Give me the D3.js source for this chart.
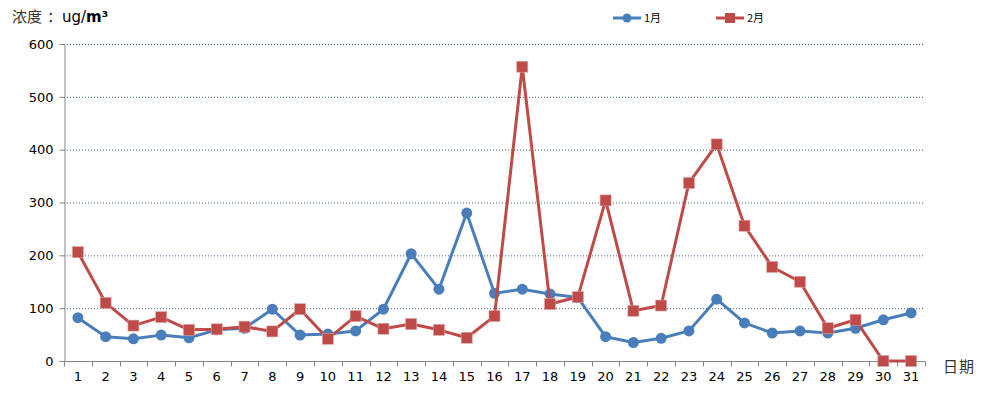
<!DOCTYPE html>
<html lang="zh">
<head>
<meta charset="UTF-8">
<title>浓度</title>
<script src="https://d3js.org/d3.v7.min.js"></script>
<style>
  body, html { margin: 0; padding: 0; background: #fff; overflow: hidden; }
  svg { display: block; font-family: "DejaVu Sans", "Noto Sans CJK SC", sans-serif; }
</style>
</head>
<body>
<svg width="992" height="396"></svg>
<script>
// data
const days = d3.range(1, 32).map(String);
const jan = [82, 46, 42, 49, 44, 59, 62, 98, 49, 51, 57, 98, 203, 136, 280, 128, 136, 127, 120, 46,
             35, 43, 57, 117, 72, 53, 57, 53, 62, 78, 91];
const feb = [206, 110, 67, 83, 59, 60, 65, 56, 98, 42, 85, 61, 70, 59, 44, 85, 557, 108, 121, 304,
             95, 105, 337, 410, 256, 178, 150, 62, 78, 0, 0];
const yTicks = [0, 100, 200, 300, 400, 500, 600];
const series = [
  { name: "1月", values: jan, color: "#4a7ebb", shape: "circle" },
  { name: "2月", values: feb, color: "#be4b48", shape: "square" }
];

const svg = d3.select("svg");
const plotL = 64, plotR = 925, plotT = 44, plotB = 361;

const x = d3.scaleBand().domain(days).range([plotL, plotR]);
const y = d3.scaleLinear().domain([0, 600]).range([plotB, plotT]);

// gridlines
svg.append("g").selectAll("line")
  .data(yTicks.filter(d => d > 0))
  .enter().append("line")
  .attr("x1", plotL).attr("x2", plotR)
  .attr("y1", d => y(d) + 0.5).attr("y2", d => y(d) + 0.5)
  .attr("stroke", "#3f5f80").attr("stroke-width", 1)
  .attr("stroke-dasharray", "1,2");

// y axis
const yAxis = svg.append("g")
  .attr("transform", `translate(${plotL + 0.5},0)`)
  .call(d3.axisLeft(y).tickValues(yTicks).tickSize(5).tickPadding(6));
yAxis.selectAll("path, line").attr("stroke", "#868686");
yAxis.selectAll("text").attr("font-size", 13).attr("fill", "#000")
  .attr("font-family", "DejaVu Sans");

// x axis
const xAxis = svg.append("g")
  .attr("transform", `translate(0,${plotB + 0.5})`)
  .call(d3.axisBottom(x).tickSize(0).tickPadding(10));
xAxis.select(".domain").attr("stroke", "#868686").attr("d", `M${plotL},0H${plotR}`);
xAxis.selectAll("text").attr("font-size", 13).attr("fill", "#000")
  .attr("font-family", "DejaVu Sans");
xAxis.selectAll(".sep")
  .data(d3.range(days.length + 1))
  .enter().append("line")
  .attr("x1", i => Math.round(plotL + i * x.step()) + 0.5)
  .attr("x2", i => Math.round(plotL + i * x.step()) + 0.5)
  .attr("y1", 0).attr("y2", 5)
  .attr("stroke", "#868686");

// series
const line = d3.line().x((d, i) => x(days[i]) + x.bandwidth() / 2).y(d => y(d));
series.forEach(s => {
  const g = svg.append("g");
  g.append("path")
    .attr("d", line(s.values))
    .attr("fill", "none")
    .attr("stroke", s.color)
    .attr("stroke-width", 3)
    .attr("stroke-linejoin", "round");
  if (s.shape === "circle") {
    g.selectAll("circle").data(s.values).enter().append("circle")
      .attr("cx", (d, i) => x(days[i]) + x.bandwidth() / 2)
      .attr("cy", d => y(d))
      .attr("r", 5.5)
      .attr("fill", s.color);
  } else {
    g.selectAll("rect").data(s.values).enter().append("rect")
      .attr("x", (d, i) => x(days[i]) + x.bandwidth() / 2 - 5.5)
      .attr("y", d => y(d) - 5.5)
      .attr("width", 11).attr("height", 11)
      .attr("fill", s.color)
      .attr("stroke", "#d9a3a2").attr("stroke-width", 0.6);
  }
});

// title
const title = svg.append("text").attr("y", 22).attr("fill", "#000");
title.append("tspan").attr("x", 12).attr("font-size", 15).attr("font-family", "Noto Sans CJK SC")
  .attr("fill", "#333").text("浓度");
title.append("tspan").attr("x", 47).attr("font-size", 15).attr("font-family", "Noto Sans CJK SC")
  .attr("fill", "#333").text("：");
title.append("tspan").attr("x", 62).attr("font-size", 15).attr("font-family", "DejaVu Sans").text("ug/");
title.append("tspan").attr("font-size", 15).attr("font-family", "DejaVu Sans")
  .attr("font-weight", "bold").text("m³");

// x label
svg.append("text").attr("x", 943).attr("y", 372)
  .attr("font-size", 15).attr("font-family", "Noto Sans CJK SC")
  .attr("letter-spacing", 1)
  .attr("fill", "#333").text("日期");

// legend
const legend = svg.append("g");
series.forEach((s, i) => {
  const lx = 613 + i * 103, ly = 18;
  legend.append("line").attr("x1", lx).attr("x2", lx + 28)
    .attr("y1", ly).attr("y2", ly)
    .attr("stroke", s.color).attr("stroke-width", 3);
  if (s.shape === "circle") {
    legend.append("circle").attr("cx", lx + 14).attr("cy", ly).attr("r", 4.5).attr("fill", s.color);
  } else {
    legend.append("rect").attr("x", lx + 9).attr("y", ly - 5).attr("width", 10).attr("height", 10)
      .attr("fill", s.color);
  }
  legend.append("text").attr("x", lx + 31).attr("y", ly + 4)
    .attr("font-size", 11).attr("font-family", "Noto Sans CJK SC").attr("fill", "#000")
    .text(s.name);
});
</script>
</body>
</html>
